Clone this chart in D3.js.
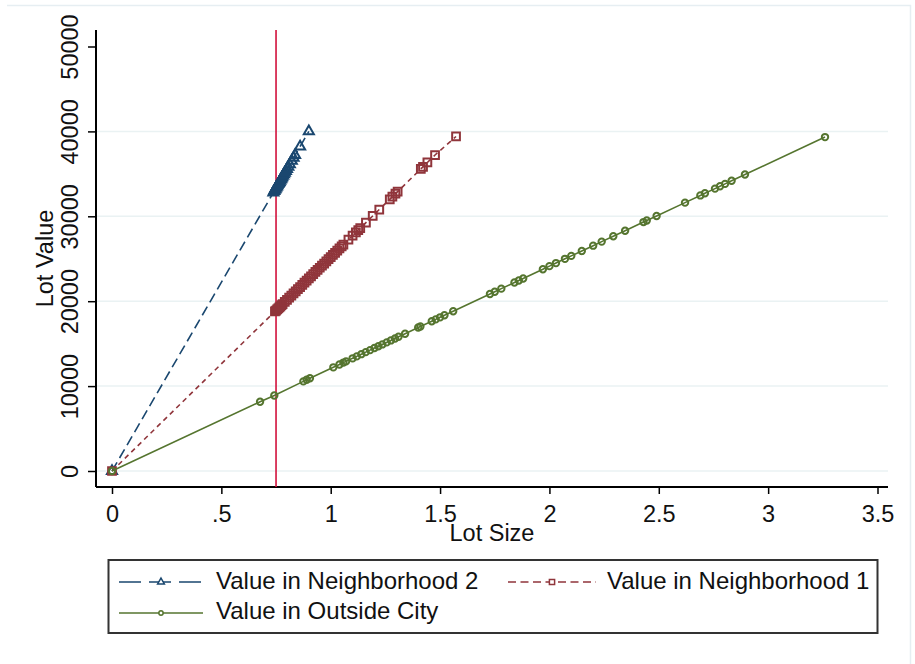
<!DOCTYPE html>
<html>
<head>
<meta charset="utf-8">
<script src="https://cdn.jsdelivr.net/npm/d3@7"></script>
<style>
  html, body { margin: 0; padding: 0; background: #fff; }
  svg text { font-family: "Liberation Sans", Arial, sans-serif; fill: #111; }
</style>
</head>
<body>
<svg id="chart" width="915" height="664"></svg>
<script>
// ---- data ----
const xTicks = [0, 0.5, 1, 1.5, 2, 2.5, 3, 3.5];
const xTickLabels = ["0", ".5", "1", "1.5", "2", "2.5", "3", "3.5"];
const yTicks = [0, 10000, 20000, 30000, 40000, 50000];
const yTickLabels = ["0", "10000", "20000", "30000", "40000", "50000"];
const xTitle = "Lot Size";
const yTitle = "Lot Value";
const cutoff = 0.75;

const seriesNames = ["Value in Neighborhood 2", "Value in Neighborhood 1", "Value in Outside City"];

const n2Size = [0, 0.738, 0.742, 0.745, 0.748, 0.751, 0.754, 0.757, 0.760, 0.763, 0.766, 0.769, 0.772, 0.775, 0.778, 0.782, 0.786, 0.790, 0.795, 0.800, 0.806, 0.813, 0.822, 0.830, 0.837, 0.860, 0.900];
const n2Value = [0, 32800, 32980, 33110, 33240, 33380, 33510, 33640, 33780, 33910, 34040, 34180, 34310, 34440, 34580, 34760, 34930, 35110, 35330, 35560, 35820, 36130, 36530, 36890, 37200, 38220, 40000];

const n1Size = [0, 0.745, 0.75, 0.755, 0.76, 0.765, 0.77, 0.775, 0.78, 0.79, 0.80, 0.81, 0.82, 0.83, 0.84, 0.85, 0.86, 0.87, 0.88, 0.89, 0.90, 0.91, 0.92, 0.93, 0.94, 0.95, 0.96, 0.97, 0.98, 0.99, 1.00, 1.01, 1.02, 1.03, 1.04, 1.05, 1.058, 1.081, 1.10, 1.115, 1.126, 1.135, 1.161, 1.192, 1.222, 1.270, 1.282, 1.296, 1.306, 1.412, 1.422, 1.442, 1.477, 1.573];
const n1Value = [0, 18800, 18900, 19030, 19150, 19280, 19400, 19530, 19660, 19910, 20160, 20410, 20660, 20920, 21170, 21420, 21670, 21920, 22180, 22430, 22680, 22930, 23190, 23440, 23690, 23940, 24190, 24440, 24700, 24950, 25200, 25450, 25700, 25960, 26210, 26460, 26660, 27240, 27720, 28100, 28380, 28600, 29260, 30040, 30800, 32000, 32310, 32660, 32910, 35580, 35830, 36340, 37220, 39400];

const ocSize = [0, 0.677, 0.742, 0.875, 0.89, 0.905, 1.012, 1.04, 1.058, 1.07, 1.10, 1.119, 1.14, 1.16, 1.18, 1.20, 1.218, 1.236, 1.256, 1.275, 1.294, 1.31, 1.34, 1.40, 1.41, 1.462, 1.48, 1.50, 1.52, 1.56, 1.728, 1.75, 1.78, 1.84, 1.86, 1.88, 1.97, 2.00, 2.03, 2.071, 2.10, 2.148, 2.20, 2.239, 2.292, 2.346, 2.43, 2.445, 2.49, 2.62, 2.69, 2.711, 2.757, 2.78, 2.803, 2.833, 2.894, 3.26];
const ocValue = [0, 8160, 8900, 10560, 10740, 10920, 12210, 12550, 12770, 12910, 13270, 13500, 13760, 14000, 14240, 14480, 14700, 14910, 15150, 15380, 15610, 15810, 16170, 16900, 17020, 17640, 17860, 18100, 18340, 18820, 20850, 21120, 21480, 22200, 22440, 22680, 23770, 24130, 24490, 24990, 25340, 25920, 26540, 27020, 27650, 28300, 29320, 29500, 30040, 31610, 32460, 32710, 33260, 33540, 33820, 34180, 34920, 39330];

// ---- layout ----
const W = 915, H = 664;
const plot = { left: 96, right: 888, top: 30, bottom: 487 };
const FONT = 23.5;
const LFONT = 24;

const svg = d3.select("#chart");
svg.append("rect").attr("width", W).attr("height", H).attr("fill", "#fff");

// faint outer frame
svg.append("path")
  .attr("d", `M7,5.5 H910.5 V${H}`)
  .attr("fill", "none").attr("stroke", "#e6eef2").attr("stroke-width", 1.5);

const x = d3.scaleLinear().domain([0, 3.5]).range([112, 877.5]);
const y = d3.scaleLinear().domain([0, 50000]).range([471, 46.5]);

// gridlines
svg.append("g").selectAll("line")
  .data(yTicks.slice(0, -1))
  .join("line")
  .attr("x1", plot.left).attr("x2", plot.right)
  .attr("y1", d => y(d)).attr("y2", d => y(d))
  .attr("stroke", "#eaf2f3").attr("stroke-width", 1.5);

// x axis
const xAxis = d3.axisBottom(x).tickValues(xTicks)
  .tickFormat((d, i) => xTickLabels[i]).tickSize(7).tickSizeOuter(0);
const gx = svg.append("g").attr("transform", `translate(0,${plot.bottom})`).call(xAxis);
gx.select(".domain").remove();
gx.selectAll(".tick line").attr("stroke", "#000").attr("stroke-width", 1.5);
gx.selectAll(".tick text").attr("font-size", FONT).attr("y", 0).attr("dy", 35)
  .attr("font-family", "Liberation Sans, Arial, sans-serif").attr("fill", "#111");
svg.append("line").attr("x1", plot.left).attr("x2", plot.right)
  .attr("y1", plot.bottom).attr("y2", plot.bottom)
  .attr("stroke", "#000").attr("stroke-width", 2);

// y axis
const yAxis = d3.axisLeft(y).tickValues(yTicks)
  .tickFormat((d, i) => yTickLabels[i]).tickSize(8).tickSizeOuter(0);
const gy = svg.append("g").attr("transform", `translate(${plot.left},0)`).call(yAxis);
gy.select(".domain").remove();
gy.selectAll(".tick line").attr("stroke", "#000").attr("stroke-width", 1.5);
gy.selectAll(".tick text").attr("font-size", FONT)
  .attr("x", null).attr("dy", null)
  .attr("transform", "translate(-18,0) rotate(-90)")
  .attr("text-anchor", "middle")
  .attr("font-family", "Liberation Sans, Arial, sans-serif").attr("fill", "#111");
svg.append("line").attr("x1", plot.left).attr("x2", plot.left)
  .attr("y1", plot.top).attr("y2", plot.bottom)
  .attr("stroke", "#000").attr("stroke-width", 2);

// axis titles
svg.append("text").attr("x", (plot.left + plot.right) / 2).attr("y", 541)
  .attr("text-anchor", "middle").attr("font-size", FONT).text(xTitle);
svg.append("text").attr("transform", `translate(53,${(plot.top + plot.bottom) / 2}) rotate(-90)`)
  .attr("text-anchor", "middle").attr("font-size", FONT).text(yTitle);

// cutoff line
svg.append("line").attr("x1", x(cutoff)).attr("x2", x(cutoff))
  .attr("y1", plot.top).attr("y2", plot.bottom)
  .attr("stroke", "#d2103c").attr("stroke-width", 1.6);

// series
const series = [
  { name: seriesNames[0], sizes: n2Size, values: n2Value, color: "#1a476f", dash: "10,5", symbol: d3.symbolTriangle, msize: 44, ldash: "22,8" },
  { name: seriesNames[1], sizes: n1Size, values: n1Value, color: "#90353b", dash: "5,4", symbol: d3.symbolSquare, msize: 60, ldash: "8,4.5" },
  { name: seriesNames[2], sizes: ocSize, values: ocValue, color: "#55752f", dash: null, symbol: d3.symbolCircle, msize: 32, ldash: null }
];

const line = d3.line().x(d => x(d[0])).y(d => y(d[1]));
series.forEach(s => {
  const pts = s.sizes.map((v, i) => [v, s.values[i]]);
  const g = svg.append("g");
  g.append("path").attr("d", line(pts)).attr("fill", "none")
    .attr("stroke", s.color).attr("stroke-width", 1.6)
    .attr("stroke-dasharray", s.dash);
  g.selectAll("path.m").data(pts).join("path").attr("class", "m")
    .attr("transform", d => `translate(${x(d[0])},${y(d[1])})`)
    .attr("d", d3.symbol().type(s.symbol).size(s.msize))
    .attr("fill", "none").attr("stroke", s.color).attr("stroke-width", 2);
});

// legend
const leg = svg.append("g");
leg.append("rect").attr("x", 108.5).attr("y", 560).attr("width", 769).attr("height", 73)
  .attr("fill", "#fff").attr("stroke", "#333").attr("stroke-width", 2);
const legPos = [
  { kx1: 119, kx2: 203, ky: 582, tx: 216, ty: 589 },
  { kx1: 508, kx2: 596, ky: 582, tx: 607, ty: 589 },
  { kx1: 119, kx2: 203, ky: 613, tx: 216, ty: 619 }
];
series.forEach((s, i) => {
  const p = legPos[i];
  leg.append("line").attr("x1", p.kx1).attr("x2", p.kx2).attr("y1", p.ky).attr("y2", p.ky)
    .attr("stroke", s.color).attr("stroke-width", 1.6).attr("stroke-dasharray", s.ldash);
  leg.append("path").attr("transform", `translate(${(p.kx1 + p.kx2) / 2},${p.ky})`)
    .attr("d", d3.symbol().type(s.symbol).size(s.msize * 0.45))
    .attr("fill", "#fff").attr("stroke", s.color).attr("stroke-width", 1.5);
  leg.append("text").attr("x", p.tx).attr("y", p.ty).attr("font-size", LFONT).text(s.name);
});
</script>
</body>
</html>
